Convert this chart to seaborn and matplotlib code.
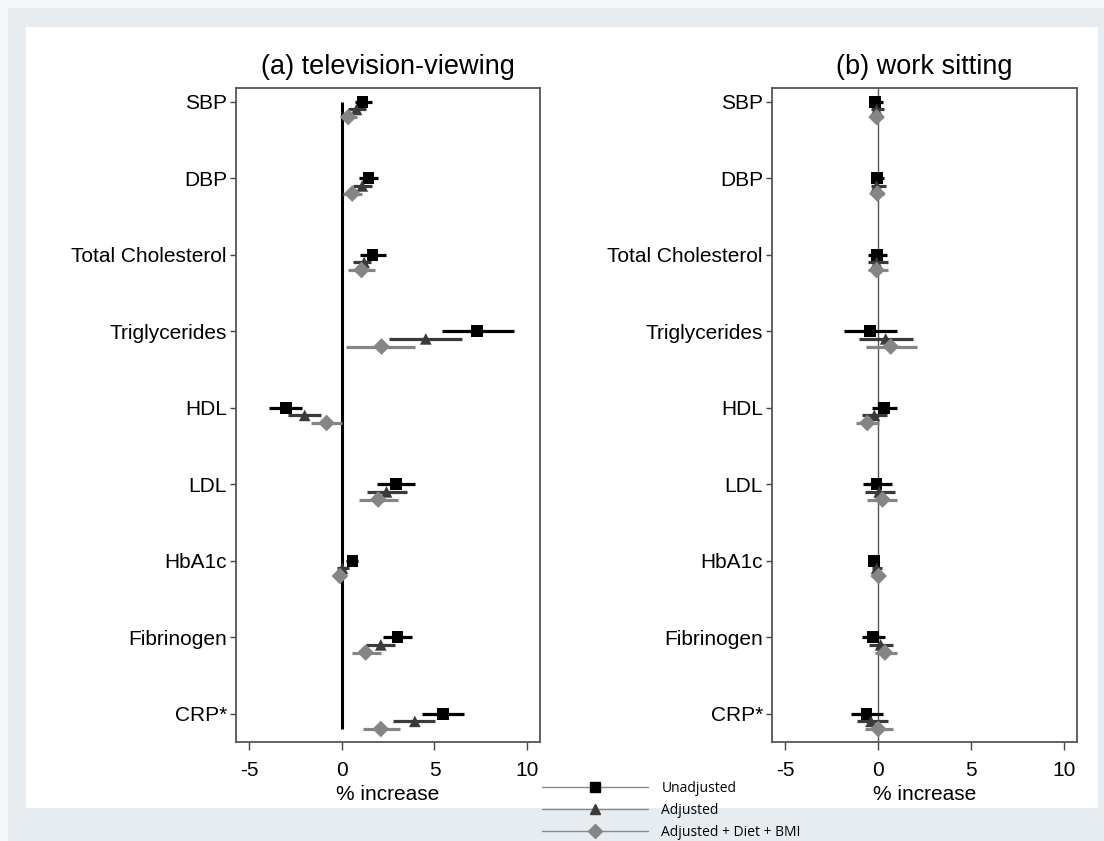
import numpy as np
import pandas as pd
import matplotlib
matplotlib.use("Agg")
import matplotlib.pyplot as plt
import seaborn as sns
from matplotlib.lines import Line2D
from matplotlib.patches import Rectangle

# ---------------- data ----------------
categories = ["SBP", "DBP", "Total Cholesterol", "Triglycerides", "HDL",
              "LDL", "HbA1c", "Fibrinogen", "CRP*"]
models = ["Unadjusted", "Adjusted", "Adjusted + Diet + BMI"]
panels = ["(a) television-viewing", "(b) work sitting"]
xticks = [-5, 0, 5, 10]

# (a) television-viewing
tv_unadj_est = [1.11, 1.44, 1.65, 7.30, -3.04, 2.91, 0.57, 3.00, 5.46]
tv_unadj_lo = [0.70, 0.93, 0.97, 5.41, -3.94, 1.92, 0.20, 2.23, 4.33]
tv_unadj_hi = [1.60, 1.96, 2.37, 9.27, -2.17, 3.95, 0.88, 3.79, 6.59]
tv_adj_est = [0.79, 1.10, 1.20, 4.53, -2.01, 2.41, 0.03, 2.10, 3.94]
tv_adj_lo = [0.34, 0.61, 0.58, 2.55, -2.89, 1.37, -0.29, 1.29, 2.77]
tv_adj_hi = [1.29, 1.60, 1.55, 6.49, -1.13, 3.49, 0.38, 2.89, 5.01]
tv_full_est = [0.34, 0.56, 1.06, 2.14, -0.83, 1.96, -0.11, 1.28, 2.10]
tv_full_lo = [-0.02, 0.07, 0.34, 0.22, -1.67, 0.90, -0.43, 0.54, 1.12]
tv_full_hi = [0.79, 1.06, 1.78, 3.97, -0.02, 3.05, 0.22, 2.09, 3.13]

# (b) work sitting
ws_unadj_est = [-0.18, -0.05, -0.05, -0.45, 0.33, -0.09, -0.21, -0.27, -0.63]
ws_unadj_lo = [-0.45, -0.36, -0.54, -1.85, -0.32, -0.84, -0.45, -0.90, -1.48]
ws_unadj_hi = [0.24, 0.31, 0.45, 1.03, 0.99, 0.72, 0.04, 0.36, 0.27]
ws_adj_est = [-0.09, -0.09, -0.09, 0.40, -0.21, 0.05, -0.09, 0.13, -0.39]
ws_adj_lo = [-0.39, -0.41, -0.54, -1.04, -0.90, -0.72, -0.36, -0.49, -1.17]
ws_adj_hi = [0.31, 0.40, 0.54, 1.86, 0.49, 0.90, 0.18, 0.77, 0.54]
ws_full_est = [-0.09, -0.05, -0.09, 0.67, -0.59, 0.23, 0.02, 0.36, 0.00]
ws_full_lo = [-0.36, -0.30, -0.54, -0.68, -1.20, -0.59, -0.20, -0.18, -0.72]
ws_full_hi = [0.27, 0.30, 0.54, 2.07, 0.04, 0.99, 0.25, 0.99, 0.77]

# ---------------- styling ----------------
sns.set_style("ticks")
plt.rcParams["font.family"] = ["Liberation Sans", "DejaVu Sans"]
for k in ["text.color", "axes.labelcolor", "xtick.labelcolor", "ytick.labelcolor"]:
    plt.rcParams[k] = "black"

marker_map = {"Unadjusted": "s", "Adjusted": "^", "Adjusted + Diet + BMI": "D"}
color_map = {"Unadjusted": "#000000", "Adjusted": "#3a3a3a",
             "Adjusted + Diet + BMI": "#858585"}
size_map = {"Unadjusted": 72, "Adjusted": 70, "Adjusted + Diet + BMI": 72}
offset_map = {"Unadjusted": 0.0, "Adjusted": 0.1, "Adjusted + Diet + BMI": 0.2}

rows = []
series = {
    panels[0]: [(models[0], tv_unadj_est, tv_unadj_lo, tv_unadj_hi),
                (models[1], tv_adj_est, tv_adj_lo, tv_adj_hi),
                (models[2], tv_full_est, tv_full_lo, tv_full_hi)],
    panels[1]: [(models[0], ws_unadj_est, ws_unadj_lo, ws_unadj_hi),
                (models[1], ws_adj_est, ws_adj_lo, ws_adj_hi),
                (models[2], ws_full_est, ws_full_lo, ws_full_hi)],
}
for p, lst in series.items():
    for m, est, lo, hi in lst:
        for i, c in enumerate(categories):
            rows.append(dict(panel=p, model=m, category=c,
                             ypos=i + offset_map[m], est=est[i], lo=lo[i], hi=hi[i]))
df = pd.DataFrame(rows)

W, H = 1104, 841
fig = plt.figure(figsize=(W / 100, H / 100), dpi=100)
fig.patch.set_facecolor("#f5f7f9")
fig.add_artist(Rectangle((8 / W, 0), 1 - 8 / W, 1 - 8 / H, transform=fig.transFigure,
                         facecolor="#e6ecf0", edgecolor="none", zorder=-3))
fig.add_artist(Rectangle((26 / W, 1 - 808 / H), (1098 - 26) / W, (808 - 27) / H,
                         transform=fig.transFigure, facecolor="white",
                         edgecolor="none", zorder=-2))

ax_l = fig.add_axes([236 / W, 1 - 742 / H, (540 - 236) / W, (742 - 88) / H])
ax_r = fig.add_axes([772 / W, 1 - 742 / H, (1077 - 772) / W, (742 - 88) / H])

for ax, p in zip([ax_l, ax_r], panels):
    sub = df[df.panel == p]
    # reference line at zero
    if ax is ax_l:
        ax.vlines(0, sub.ypos.min(), sub.ypos.max(), colors="black", lw=2.2, zorder=1)
    else:
        ax.axvline(0, color="#555555", lw=1.0, zorder=1)
    for m in models:
        sm = sub[sub.model == m]
        ax.hlines(sm.ypos, sm.lo, sm.hi, colors=color_map[m], lw=2.3, zorder=2)
    sns.scatterplot(data=sub, x="est", y="ypos", hue="model", style="model",
                    markers=marker_map, palette=color_map, size="model",
                    sizes=size_map, linewidth=0, legend=False, ax=ax, zorder=3)
    ax.set_xlim(-5.72, 10.7)
    ax.set_ylim(8.37, -0.18)
    ax.set_xticks(xticks)
    ax.set_xticklabels([str(t) for t in xticks], fontsize=15)
    ax.set_yticks(range(len(categories)))
    ax.set_yticklabels(categories, fontsize=15)
    ax.tick_params(axis="y", direction="out", length=4.5, width=1.0,
                   color="#444444", pad=2)
    ax.tick_params(axis="x", direction="out", length=6, width=1.0,
                   color="#444444", pad=8)
    ax.set_xlabel("% increase", fontsize=15, labelpad=3)
    ax.set_ylabel("")
    ax.set_title(p, fontsize=19.5, pad=10)
    for s in ax.spines.values():
        s.set_visible(True)
        s.set_color("#555555")
        s.set_linewidth(1.3)

handles = [Line2D([0], [0], color="#8a8a8a", lw=1.0, marker=marker_map[m],
                  markersize=7.5,
                  markerfacecolor=color_map[m], markeredgecolor=color_map[m])
           for m in models]
fig.legend(handles, models, loc="upper left",
           bbox_to_anchor=(542 / W, 1 - 781 / H), frameon=False,
           prop={"family": "Open Sans", "size": 10}, handlelength=7.6,
           handletextpad=1.0, labelspacing=0.5, borderpad=0, borderaxespad=0,
           numpoints=1, labelcolor="black")

fig.savefig("out.png", dpi=100, facecolor=fig.get_facecolor())
